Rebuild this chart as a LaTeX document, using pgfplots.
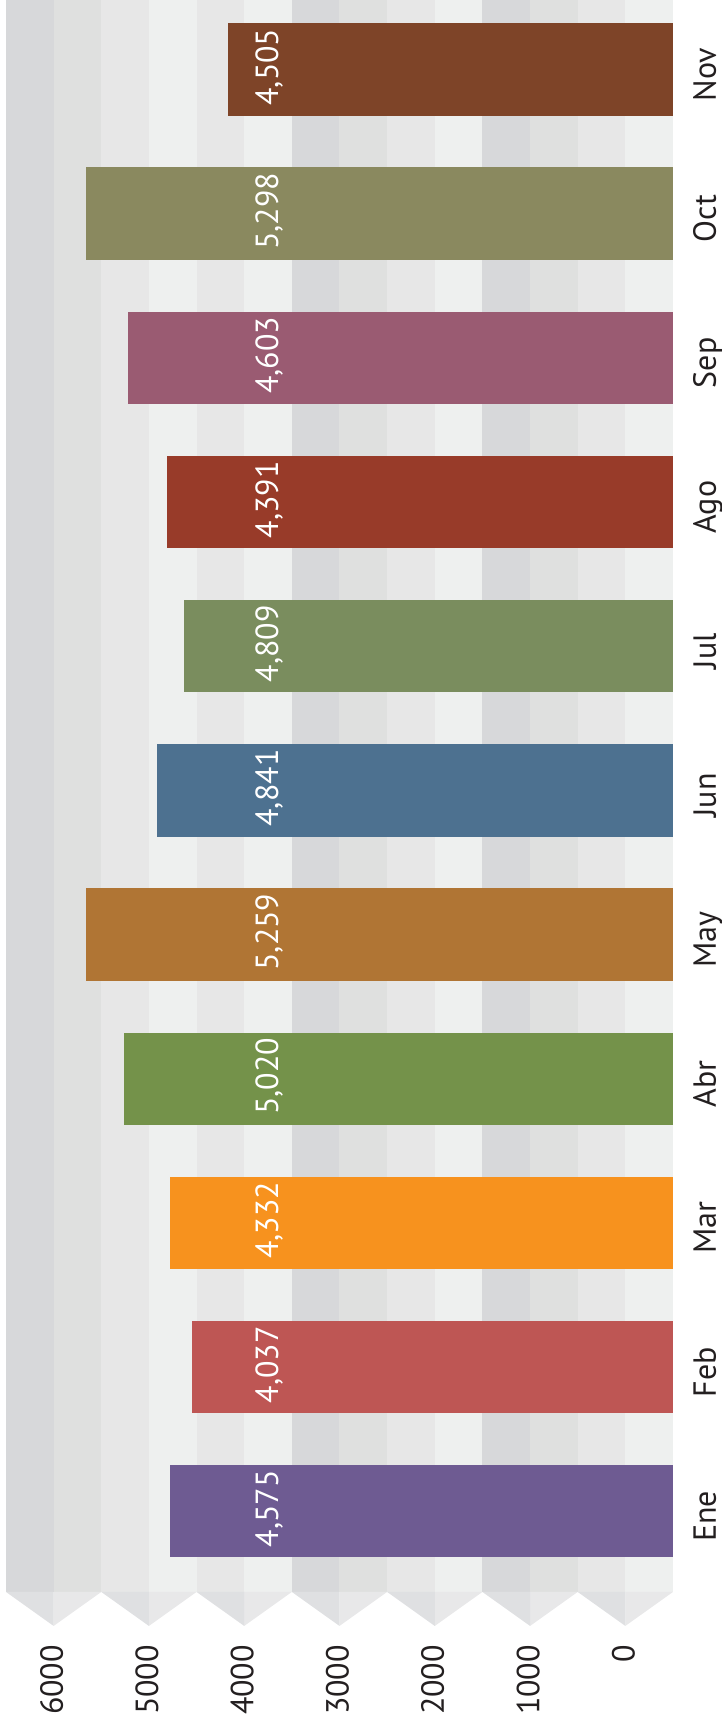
\documentclass[border=0pt]{standalone}
\usepackage{pgfplots}
\pgfplotsset{compat=1.18}
\usepackage{fontspec}
\setmainfont{PT Sans}
\definecolor{sD}{HTML}{D7D8DA}
\definecolor{sM}{HTML}{DFE0DF}
\definecolor{sLa}{HTML}{E7E7E7}
\definecolor{sLb}{HTML}{EEF0EF}
\definecolor{chD}{HTML}{DFE0E2}
\definecolor{chL}{HTML}{E8E8E9}
\definecolor{cEne}{HTML}{6E5B92}
\definecolor{cFeb}{HTML}{BE5654}
\definecolor{cMar}{HTML}{F7921E}
\definecolor{cAbr}{HTML}{74924A}
\definecolor{cMay}{HTML}{B07534}
\definecolor{cJun}{HTML}{4D7190}
\definecolor{cJul}{HTML}{7A8D5E}
\definecolor{cAgo}{HTML}{983B29}
\definecolor{cSep}{HTML}{9A5B72}
\definecolor{cOct}{HTML}{8A895F}
\definecolor{cNov}{HTML}{7E4428}
\definecolor{txt}{HTML}{231F20}
\newcommand{\lbl}{\fontsize{32}{38}\selectfont}
\pgfplotsset{mybar/.style={xbar, bar width=92.4pt, bar shift=0pt, draw=none, fill=#1, x filter/.expression={x+500}}}
\begin{document}
\lbl
\begin{tikzpicture}
\useasboundingbox (-6pt,-92.4pt) rectangle (716pt,1626.6pt);
\begin{axis}[
  at={(0pt,0pt)}, anchor=south west,
  scale only axis, width=667pt, height=1626.6pt,
  xmin=0, xmax=7000, x dir=reverse,
  ymin=-0.8, ymax=10.482,
  axis line style={draw=none}, tick style={draw=none},
  clip=false,
  /pgf/number format/assume math mode=true,
  xtick={500,1500,2500,3500,4500,5500,6500},
  xticklabels={0,1000,2000,3000,4000,5000,6000},
  xticklabel style={inner sep=0pt, xshift=-2pt, yshift=-18.4pt, rotate=90, anchor=east, font=\lbl, text=txt},
  ytick={0,1,2,3,4,5,6,7,8,9,10},
  yticklabels={Ene,Feb,Mar,Abr,May,Jun,Jul,Ago,Sep,Oct,Nov},
  yticklabel pos=right,
  yticklabel style={inner sep=0pt, xshift=43pt, yshift=-5pt, rotate=90, anchor=base, font=\lbl, text=txt},
]
% background stripes
\fill[sLb] (axis cs:0,-0.5597) rectangle (axis cs:500,10.482);
\fill[sLa] (axis cs:500,-0.5597) rectangle (axis cs:1000,10.482);
\fill[sM]  (axis cs:1000,-0.5597) rectangle (axis cs:1500,10.482);
\fill[sD]  (axis cs:1500,-0.5597) rectangle (axis cs:2000,10.482);
\fill[sLb] (axis cs:2000,-0.5597) rectangle (axis cs:2500,10.482);
\fill[sLa] (axis cs:2500,-0.5597) rectangle (axis cs:3000,10.482);
\fill[sM]  (axis cs:3000,-0.5597) rectangle (axis cs:3500,10.482);
\fill[sD]  (axis cs:3500,-0.5597) rectangle (axis cs:4000,10.482);
\fill[sLb] (axis cs:4000,-0.5597) rectangle (axis cs:4500,10.482);
\fill[sLa] (axis cs:4500,-0.5597) rectangle (axis cs:5000,10.482);
\fill[sLb] (axis cs:5000,-0.5597) rectangle (axis cs:5500,10.482);
\fill[sLa] (axis cs:5500,-0.5597) rectangle (axis cs:6000,10.482);
\fill[sM]  (axis cs:6000,-0.5597) rectangle (axis cs:6500,10.482);
\fill[sD]  (axis cs:6500,-0.5597) rectangle (axis cs:7000,10.482);
% chevrons
\pgfplotsinvokeforeach{0,1,2,3,4,5,6}{
  \fill[chL] (axis cs:{#1*1000},-0.5597) -- (axis cs:{#1*1000+500},-0.5597) -- (axis cs:{#1*1000+500},-0.7955) -- cycle;
  \fill[chD] (axis cs:{#1*1000+500},-0.5597) -- (axis cs:{#1*1000+1000},-0.5597) -- (axis cs:{#1*1000+500},-0.7955) -- cycle;
}
% bars (values read on the drawn 0-6000 scale)
\addplot[mybar=cEne] coordinates {(4781,0)};
\addplot[mybar=cFeb] coordinates {(4551,1)};
\addplot[mybar=cMar] coordinates {(4781,2)};
\addplot[mybar=cAbr] coordinates {(5264,3)};
\addplot[mybar=cMay] coordinates {(5665,4)};
\addplot[mybar=cJun] coordinates {(4918,5)};
\addplot[mybar=cJul] coordinates {(4632,6)};
\addplot[mybar=cAgo] coordinates {(4815,7)};
\addplot[mybar=cSep] coordinates {(5217,8)};
\addplot[mybar=cOct] coordinates {(5665,9)};
\addplot[mybar=cNov] coordinates {(4171,10)};
% value labels
\addplot[draw=none, mark=none, nodes near coords, point meta=explicit symbolic,
  every node near coord/.append style={inner sep=0pt, yshift=2.4pt, rotate=90, anchor=base, text=white, font=\lbl}]
  table[x expr=\thisrow{x}+500, y=y, meta=lab] {
x y lab
3645 0 4,575
3645 1 4,037
3645 2 4,332
3645 3 5,020
3645 4 5,259
3645 5 4,841
3645 6 4,809
3645 7 4,391
3645 8 4,603
3645 9 5,298
3645 10 4,505
};
\end{axis}
\end{tikzpicture}
\end{document}
